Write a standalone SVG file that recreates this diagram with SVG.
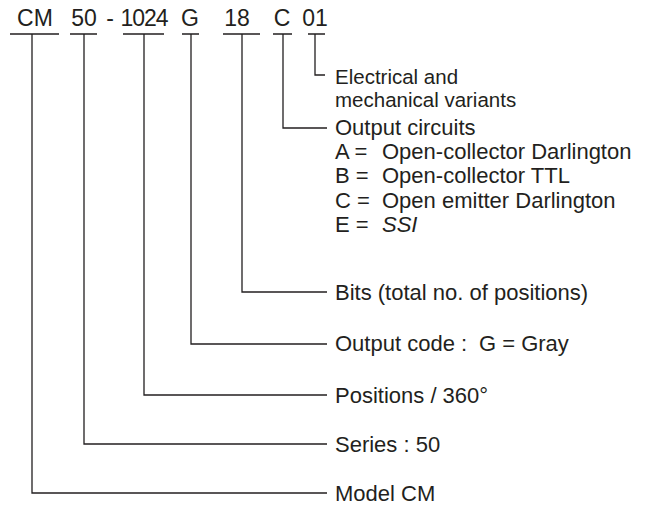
<svg xmlns="http://www.w3.org/2000/svg" width="649" height="510" viewBox="0 0 649 510">
<style>
text{font-family:"Liberation Sans",Arial,sans-serif;fill:#231f20}
.code{font-size:23px;text-anchor:middle}
.lbl{font-size:22px}
.sm{font-size:20.5px}
.ln{fill:none;stroke:#231f20;stroke-width:1.3}
</style>
<rect width="649" height="510" fill="#fff"/>
<g id="connectors" class="ln">
<path d="M10,34H59M70,34H97M123,34H164M182,34H199M223,34H260M273,34H292M308,34H325"/>
<path d="M32,34V493H327"/>
<path d="M84,34V444H327"/>
<path d="M144,34V395H327"/>
<path d="M191,34V344H327"/>
<path d="M242,34V292H327"/>
<path d="M283,34V128H327"/>
<path d="M315,34V75H325"/>
</g>
<g id="model">
<text class="code" x="35" y="26">CM</text>
<text class="lbl" x="335" y="501">Model CM</text>
</g>
<g id="series">
<text class="code" x="84" y="26">50</text>
<text class="code" x="110" y="26">-</text>
<text class="lbl" x="335" y="452">Series : 50</text>
</g>
<g id="positions">
<text class="code" x="144" y="26" letter-spacing="-1">1024</text>
<text class="lbl" x="335" y="403">Positions / 360°</text>
</g>
<g id="output-code">
<text class="code" x="190" y="26">G</text>
<text class="lbl" x="335" y="351">Output code :<tspan x="479">G = Gray</tspan></text>
</g>
<g id="bits">
<text class="code" x="237" y="26">18</text>
<text class="lbl" x="335" y="300">Bits (total no. of positions)</text>
</g>
<g id="output-circuits">
<text class="code" x="282" y="26">C</text>
<text class="lbl" x="335" y="135">Output circuits</text>
<text class="lbl" x="335" y="159">A =</text>
<text class="lbl" x="382" y="159">Open-collector Darlington</text>
<text class="lbl" x="335" y="183">B =</text>
<text class="lbl" x="382" y="183">Open-collector TTL</text>
<text class="lbl" x="335" y="208">C =</text>
<text class="lbl" x="382" y="208">Open emitter Darlington</text>
<text class="lbl" x="335" y="232">E =</text>
<text class="lbl" x="382" y="232" font-style="italic">SSI</text>
</g>
<g id="variants">
<text class="code" x="315" y="26">01</text>
<text class="lbl sm" x="335" y="84">Electrical and</text>
<text class="lbl sm" x="335" y="107">mechanical variants</text>
</g>
</svg>
